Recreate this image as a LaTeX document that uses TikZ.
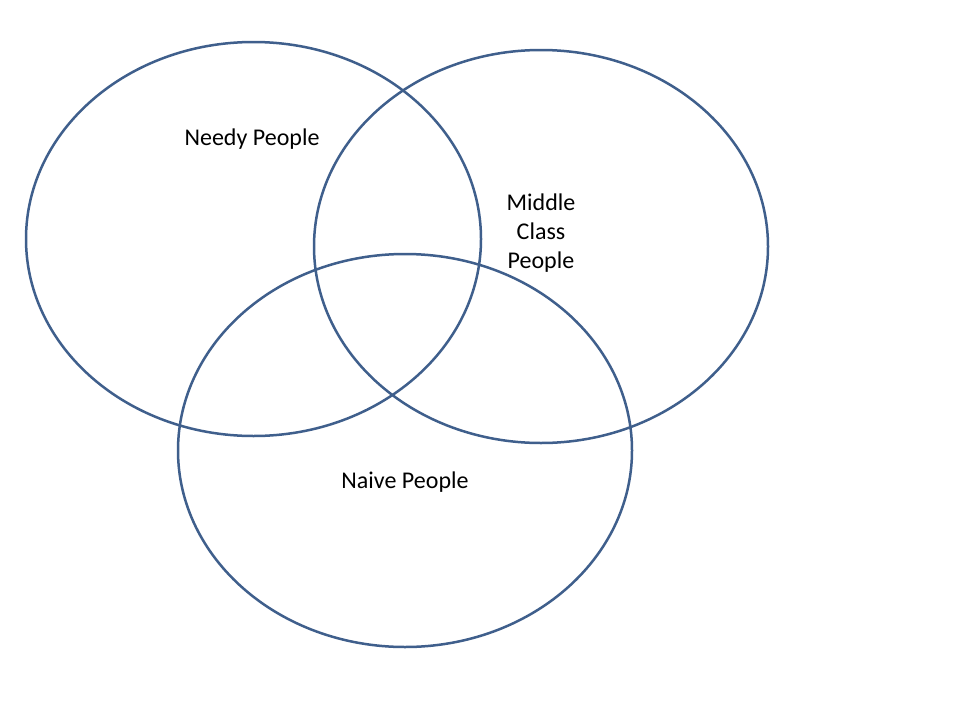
\documentclass[tikz,border=0pt]{standalone}
\usepackage{fontspec}
\setmainfont{Carlito}
\definecolor{vennblue}{HTML}{3F5F8C}
\begin{document}
\begin{tikzpicture}[x=1pt,y=-1pt,
  setline/.style={draw=vennblue,line width=2.5pt},
  setlabel/.style={font=\fontsize{24}{29}\selectfont,text=black,align=center,inner sep=0pt}]
\useasboundingbox (0,0) rectangle (960,720);
\fill[white] (0,0) rectangle (960,720);
\draw[setline] (253.5,239) ellipse [x radius=227.5, y radius=197];
\draw[setline] (541,246.5) ellipse [x radius=227, y radius=196.5];
\draw[setline] (405,450.5) ellipse [x radius=227, y radius=196.5];
\node[setlabel] (needy) at (252,139) {Needy People};
\node[setlabel] (middle) at (541,233) {Middle\\Class\\People};
\node[setlabel] (naive) at (405,482) {Naive People};
\end{tikzpicture}
\end{document}
